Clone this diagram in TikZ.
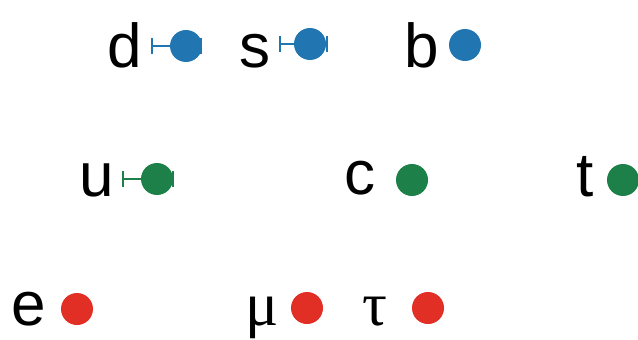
\documentclass[tikz,border=0pt]{standalone}
\usepackage{fontspec}
\setmainfont{Liberation Sans}
\newfontfamily\greekfont{Liberation Serif}
\definecolor{quarkdown}{RGB}{33,118,178}
\definecolor{quarkup}{RGB}{28,128,72}
\definecolor{lepton}{RGB}{226,47,38}
\begin{document}
\begin{tikzpicture}[x=1pt,y=-1pt,
  flavour/.style={anchor=base west,inner sep=0pt,font=\fontsize{62}{62}\selectfont},
  greek/.style={flavour,font=\fontsize{62}{62}\selectfont\greekfont},
  mass/.style={circle,inner sep=0pt,minimum size=32pt,fill=#1},
  errbar/.style={draw=#1,line width=2pt},
  barcap/.style={draw=#1,line width=2pt}]
\useasboundingbox (0,0) rectangle (638,340);

% down-type quarks
\node[flavour] (d) at (107,67) {d};
\node[flavour] (s) at (239,67) {s};
\node[flavour] (b) at (404,67) {b};
\node[mass=quarkdown] (md) at (186,46) {};
\node[mass=quarkdown] (ms) at (310,44) {};
\node[mass=quarkdown] (mb) at (465,45) {};

% up-type quarks
\node[flavour] (u) at (79,196) {u};
\node[flavour] (c) at (344,194) {c};
\node[flavour] (t) at (576,196) {t};
\node[mass=quarkup] (mu) at (157,179) {};
\node[mass=quarkup] (mc) at (412,180) {};
\node[mass=quarkup] (mt) at (623,180) {};

% charged leptons
\node[flavour] (e) at (11,325) {e};
\node[greek] (muon) at (245,325) {μ};
\node[greek] (tau) at (362,325) {τ};
\node[mass=lepton] (me) at (77,309) {};
\node[mass=lepton] (mmu) at (307,308) {};
\node[mass=lepton] (mtau) at (428,308) {};

% uncertainty ranges
\coordinate (dlo) at (152,46);  \coordinate (dhi) at (201,46);
\coordinate (slo) at (280,44);  \coordinate (shi) at (327,44);
\coordinate (ulo) at (123,179); \coordinate (uhi) at (173,179);
\foreach \lo/\hi/\c in {dlo/dhi/quarkdown, slo/shi/quarkdown, ulo/uhi/quarkup}{
  \draw[errbar=\c] (\lo) -- (\hi);
  \draw[barcap=\c] ([yshift=-8pt]\lo) -- ([yshift=8pt]\lo);
  \draw[barcap=\c] ([yshift=-8pt]\hi) -- ([yshift=8pt]\hi);
}
\end{tikzpicture}
\end{document}
